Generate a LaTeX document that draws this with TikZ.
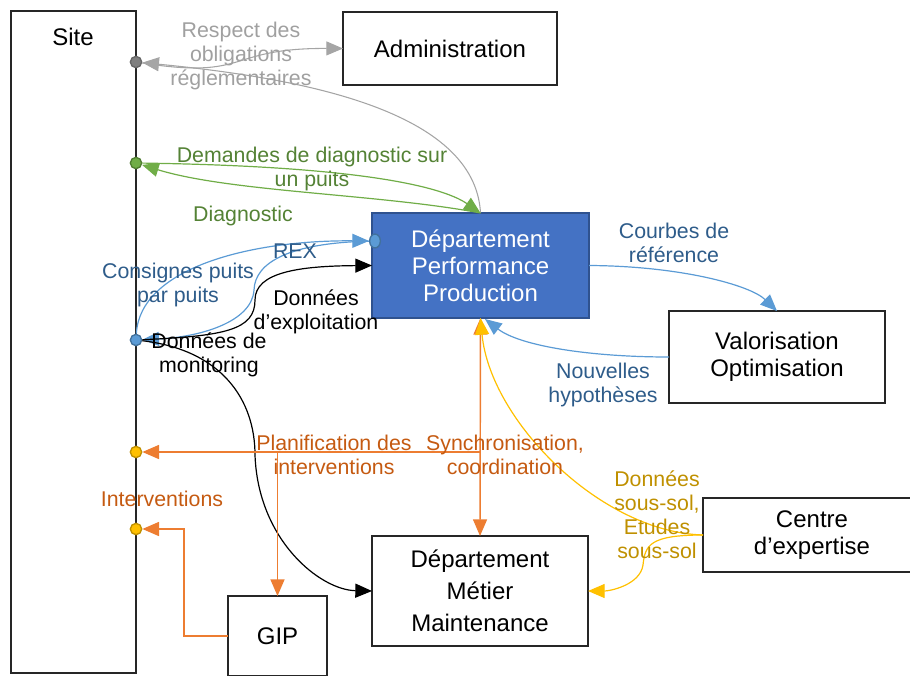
\documentclass[tikz,border=0pt]{standalone}
\usepackage{fontspec}
\setmainfont{Liberation Sans}
\usetikzlibrary{arrows.meta,shapes.geometric}
\definecolor{dppfill}{HTML}{4472C4}
\definecolor{dppline}{HTML}{2F528F}
\definecolor{grayline}{HTML}{A5A5A5}
\definecolor{graytext}{HTML}{A0A0A0}
\definecolor{graydot}{HTML}{7F7F7F}
\definecolor{greenline}{HTML}{70AD47}
\definecolor{greentext}{HTML}{548235}
\definecolor{greendot}{HTML}{507E32}
\definecolor{blueline}{HTML}{5B9BD5}
\definecolor{bluetext}{HTML}{2E5C8A}
\definecolor{bluedot}{HTML}{41719C}
\definecolor{orangeline}{HTML}{ED7D31}
\definecolor{orangetext}{HTML}{C55A11}
\definecolor{yellowline}{HTML}{FFC000}
\definecolor{yellowtext}{HTML}{BF9000}
\begin{document}
\begin{tikzpicture}[x=0.75pt,y=-0.75pt,
  box/.style={draw=black!85,line width=1pt,inner sep=0pt,outer sep=0pt,align=center,
    font=\fontsize{18}{20.25}\selectfont},
  lbl/.style={inner sep=0pt,align=center,font=\fontsize{16}{18}\selectfont},
  dot/.style={circle,inner sep=0pt,minimum size=8.5pt,line width=1pt},
  tipend/.style={-{Triangle[length=12.5pt,width=10.5pt]}},
  tipboth/.style={{Triangle[length=12.5pt,width=10.5pt]}-{Triangle[length=12.5pt,width=10.5pt]}},
  cgray/.style={draw=grayline,line width=0.8pt},
  cgreen/.style={draw=greenline,line width=0.9pt},
  cblue/.style={draw=blueline,line width=0.9pt},
  cblack/.style={draw=black,line width=0.9pt},
  corange/.style={draw=orangeline,line width=1.1pt},
  cyellow/.style={draw=yellowline,line width=0.9pt}]
\useasboundingbox (0,0) rectangle (910,675);

% boxes
\node[box,minimum width=93.75pt,minimum height=496.5pt] (site) at (73.5,342) {};
\node[font=\fontsize{18}{20.25}\selectfont,inner sep=0pt] (sitet) at (73,37) {Site};
\node[box,minimum width=160.5pt,minimum height=54.75pt] (adm) at (450,48.5) {Administration};
\node[box,draw=dppline,fill=dppfill,text=white,minimum width=162.75pt,minimum height=78.75pt] (dpp) at (480.5,265.5) {Département\\Performance\\Production};
\node[box,minimum width=162pt,minimum height=69pt] (valo) at (777,357) {Valorisation\\Optimisation};
\node[box,minimum width=163.5pt,minimum height=55.5pt] (ce) at (812,535) {\raisebox{0pt}[\height][\depth]{}Centre\\d’expertise};
\node[box,minimum width=162pt,minimum height=82.5pt,font=\fontsize{18}{24}\selectfont] (dmm) at (480,591) {Département\\Métier\\Maintenance};
\node[box,minimum width=74.25pt,minimum height=60pt] (gip) at (277.5,636) {GIP};

% dots on the site
\node[dot,fill=graydot,draw=graydot!80!black] (dgray) at (136,62) {};
\node[dot,fill=greenline,draw=greendot] (dgreen) at (136,163) {};
\node[dot,fill=blueline,draw=bluedot] (dblue) at (136,340) {};
\node[dot,fill=yellowline,draw=yellowtext] (dor1) at (136,452) {};
\node[dot,fill=yellowline,draw=yellowtext] (dor2) at (136,529) {};
\node[ellipse,inner sep=0pt,minimum width=8pt,minimum height=10.5pt,fill=blueline,draw=bluedot,line width=1pt] (dppdot) at (375,241) {};

\coordinate (oj) at (480.5,452);
\coordinate (oj2) at (277.5,452);
\coordinate (dppS2) at (485,319);

% gray
\draw[cgray,tipend] (dgray) .. controls (250,80) and (225,48) .. (adm.west);
\draw[cgray,tipend] (dpp.north) .. controls (475,110) and (300,78) .. (dgray);
% green
\draw[cgreen,tipend] (dgreen) .. controls (350,166) and (440,185) .. (dpp.north);
\draw[cgreen,tipend] (dpp.north) .. controls (380,194) and (230,192) .. (dgreen);
% blue REX / consignes
\draw[cblue,tipend] (dblue) .. controls (140,268) and (250,240) .. (dppdot);
\draw[cblue,tipend] (dppdot) .. controls (290,243) and (255,262) .. (254,290) .. controls (252,322) and (200,337) .. (dblue);
% black
\draw[cblack,tipend] (dblue) .. controls (225,336) and (255,330) .. (255,300) .. controls (255,272) and (300,266) .. (dpp.west);
\draw[cblack,tipend] (dblue) .. controls (222,350) and (255,400) .. (255,455) .. controls (258,540) and (320,590) .. (dmm.west);
% blue courbes / nouvelles
\draw[cblue,tipend] (dpp.east) .. controls (680,266) and (750,285) .. (valo.north);
\draw[cblue,tipend] (valo.west) .. controls (590,357) and (520,346) .. (dppS2);
% orange
\draw[corange,tipboth] (dpp.south) -- (dmm.north);
\draw[corange,tipend] (oj) -- (dor1);
\draw[corange,tipend] (oj2) -- (gip.north);
\draw[corange,tipend] (gip.west) -- ++(-44,0) |- (dor2);
% yellow
\draw[cyellow,tipend] (ce.west) .. controls (600,532) and (490,420) .. (dpp.south);
\draw[cyellow,tipend] (ce.west) .. controls (650,535) and (645,545) .. (643,565) .. controls (640,585) and (610,591) .. (dmm.east);

% labels
\node[lbl,text=graytext] (l1) at (241,56) {Respect des\\obligations\\réglementaires};
\node[lbl,text=greentext] (l2) at (312,168.5) {Demandes de diagnostic sur\\un puits};
\node[lbl,text=greentext] (l3) at (243,216) {Diagnostic};
\node[lbl,text=bluetext] (l4) at (295,251) {REX};
\node[lbl,text=bluetext] (l5) at (178,285) {Consignes puits\\par puits};
\node[lbl] (l6) at (316,311.5) {Données\\d’exploitation};
\node[lbl] (l7) at (209,354.5) {Données de\\monitoring};
\node[lbl,text=orangetext] (l8) at (334,455) {Planification des\\interventions};
\node[lbl,text=orangetext] (l9) at (505,455) {Synchronisation,\\coordination};
\node[lbl,text=orangetext] (l10) at (162,499) {Interventions};
\node[lbl,text=bluetext] (l11) at (674,243) {Courbes de\\référence};
\node[lbl,text=bluetext] (l12) at (603,385) {Nouvelles\\hypothèses};
\node[lbl,text=yellowtext] (l13) at (657,514.5) {Données\\sous-sol,\\Etudes\\sous-sol};
\end{tikzpicture}
\end{document}
